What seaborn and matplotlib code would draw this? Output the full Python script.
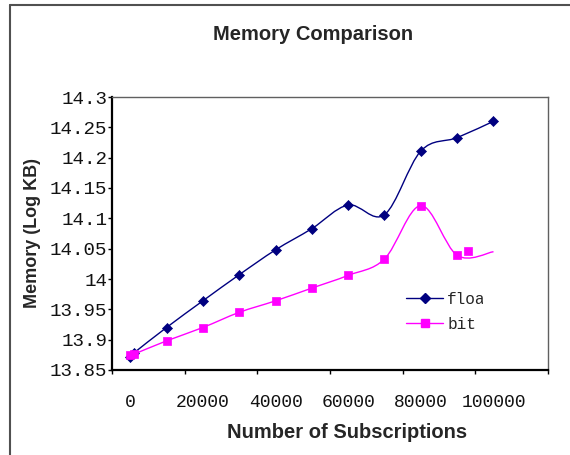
import numpy as np
import matplotlib
matplotlib.use("Agg")
import matplotlib.pyplot as plt
from matplotlib.path import Path
from matplotlib.patches import PathPatch
from matplotlib.lines import Line2D
from matplotlib.ticker import FixedLocator, FixedFormatter, NullFormatter
from matplotlib.transforms import Bbox, TransformedBbox
import seaborn as sns

# ---- data -------------------------------------------------------------
subscriptions = [0, 1000, 10000, 20000, 30000, 40000, 50000,
                 60000, 70000, 80000, 90000, 100000]
float_mem = [13.872, 13.878, 13.920, 13.964, 14.007, 14.048, 14.083,
             14.122, 14.106, 14.211, 14.233, 14.260]
bit_mem = [13.874, 13.876, 13.898, 13.920, 13.945, 13.964, 13.985,
           14.006, 14.033, 14.121, 14.039, 14.045]
# the final "bit" marker is drawn away from the end of its curve
bit_last_marker_x = [93000]
bit_last_marker_y = [14.046]

series_names = ["float", "bit"]
x_ticks = [0, 20000, 40000, 60000, 80000, 100000]
x_tick_labels = ["0", "20000", "40000", "60000", "80000", "100000"]
x_tick_marks = [-5000, 15000, 35000, 55000, 75000, 95000, 115000]
y_ticks = [13.85, 13.9, 13.95, 14.0, 14.05, 14.1, 14.15, 14.2, 14.25, 14.3]
y_tick_labels = ["13.85", "13.9", "13.95", "14", "14.05", "14.1",
                 "14.15", "14.2", "14.25", "14.3"]

NAVY = "#000080"
MAGENTA = "#FF00FF"

sns.set_style("white")
plt.rcParams["font.family"] = ["Liberation Sans", "DejaVu Sans"]

W, H = 570, 455
fig = plt.figure(figsize=(W / 100, H / 100), dpi=100)
fig.patch.set_facecolor("white")


def fx(px):
    return px / W


def fy(py):
    return 1 - py / H


ax = fig.add_axes([fx(112), fy(370), fx(548) - fx(112), fy(97) - fy(370)])
ax.set_facecolor("white")


def smooth_path(xs, ys):
    """Bezier path through the points, spreadsheet-style smoothing."""
    p = np.column_stack([xs, ys]).astype(float)
    n = len(p)
    verts = [p[0]]
    codes = [Path.MOVETO]
    for i in range(n - 1):
        dx = p[i + 1, 0] - p[i, 0]
        prev = p[i - 1] if i > 0 else p[i]
        nxt = p[i + 2] if i + 2 < n else p[i + 1]
        t1 = (p[i + 1] - prev) / 6.0
        t2 = (nxt - p[i]) / 6.0
        lim = dx / 3.0
        if abs(t1[0]) > lim:
            t1 = t1 * lim / abs(t1[0])
        if abs(t2[0]) > lim:
            t2 = t2 * lim / abs(t2[0])
        verts += [p[i] + t1, p[i + 1] - t2, p[i + 1]]
        codes += [Path.CURVE4] * 3
    return Path(verts, codes)


ax.add_patch(PathPatch(smooth_path(subscriptions, float_mem), fill=False,
                       edgecolor=NAVY, lw=1.0, zorder=2))
ax.add_patch(PathPatch(smooth_path(subscriptions, bit_mem), fill=False,
                       edgecolor=MAGENTA, lw=1.0, zorder=3))

sns.scatterplot(x=subscriptions, y=float_mem, marker="D", s=26,
                color=NAVY, edgecolor=NAVY, linewidth=0.5, ax=ax, zorder=4)
sns.scatterplot(x=subscriptions[:-1], y=bit_mem[:-1], marker="s", s=36,
                color=MAGENTA, edgecolor=MAGENTA, linewidth=0.5, ax=ax,
                zorder=5)
sns.scatterplot(x=bit_last_marker_x, y=bit_last_marker_y, marker="s", s=36,
                color=MAGENTA, edgecolor=MAGENTA, linewidth=0.5, ax=ax,
                zorder=5)

ax.set_xlim(-5000, 115000)
ax.set_ylim(13.85, 14.3)

# x axis: labels on the data values, tick marks between them
ax.xaxis.set_major_locator(FixedLocator(x_ticks))
ax.xaxis.set_major_formatter(FixedFormatter(x_tick_labels))
ax.xaxis.set_minor_locator(FixedLocator(x_tick_marks))
ax.xaxis.set_minor_formatter(NullFormatter())
ax.tick_params(axis="x", which="major", length=0, pad=17.5, labelsize=13,
               labelcolor="#111111")
ax.tick_params(axis="x", which="minor", direction="out", length=3,
               width=1, color="black", bottom=True)

ax.yaxis.set_major_locator(FixedLocator(y_ticks))
ax.yaxis.set_major_formatter(FixedFormatter(y_tick_labels))
ax.tick_params(axis="y", which="major", direction="out", length=3,
               width=1, color="black", pad=0.5, labelsize=13.8,
               labelcolor="#111111", left=True)
for lab in ax.get_xticklabels() + ax.get_yticklabels():
    lab.set_family(["Liberation Mono", "DejaVu Sans Mono"])

for side in ("left", "bottom"):
    ax.spines[side].set_color("black")
    ax.spines[side].set_linewidth(1.6)
for side in ("top", "right"):
    ax.spines[side].set_color("#606060")
    ax.spines[side].set_linewidth(1.0)

ax.set_xlabel("Number of Subscriptions", fontsize=14.5, fontweight="bold")
ax.xaxis.set_label_coords(fx(347), fy(433), transform=fig.transFigure)
ax.xaxis.label.set_va("center")
ax.set_ylabel("Memory (Log KB)", fontsize=13, fontweight="bold")
ax.yaxis.set_label_coords(fx(33), fy(233.5), transform=fig.transFigure)
ax.yaxis.label.set_va("center")
ax.yaxis.label.set_ha("center")

fig.text(fx(313), fy(34.7), "Memory Comparison", fontsize=14.5,
         fontweight="bold", ha="center", va="center")

handles = [
    Line2D([], [], color=NAVY, lw=1.0, marker="D", markersize=5.1,
           markeredgecolor=NAVY),
    Line2D([], [], color=MAGENTA, lw=1.0, marker="s", markersize=6,
           markeredgecolor=MAGENTA),
]
leg = ax.legend(handles, series_names, loc="upper left",
                bbox_to_anchor=(fx(406), fy(292)),
                bbox_transform=fig.transFigure, frameon=False,
                borderpad=0, borderaxespad=0, handlelength=2.3,
                handletextpad=0.25, labelspacing=0.6,
                prop={"family": ["Liberation Mono", "DejaVu Sans Mono"],
                      "size": 11.6})
clip = TransformedBbox(Bbox([[0, 0], [fx(483), 1]]), fig.transFigure)
for t in leg.get_texts():
    t.set_clip_box(clip)
    t.set_clip_on(True)

# outer chart frame (left and top edges)
fig.add_artist(Line2D([fx(10), fx(10)], [fy(5), 0], color="#505050",
                      lw=1.5, transform=fig.transFigure))
fig.add_artist(Line2D([fx(10), 1], [fy(5), fy(5)], color="#505050",
                      lw=1.5, transform=fig.transFigure))

fig.savefig("out.png", dpi=100, facecolor="white")
